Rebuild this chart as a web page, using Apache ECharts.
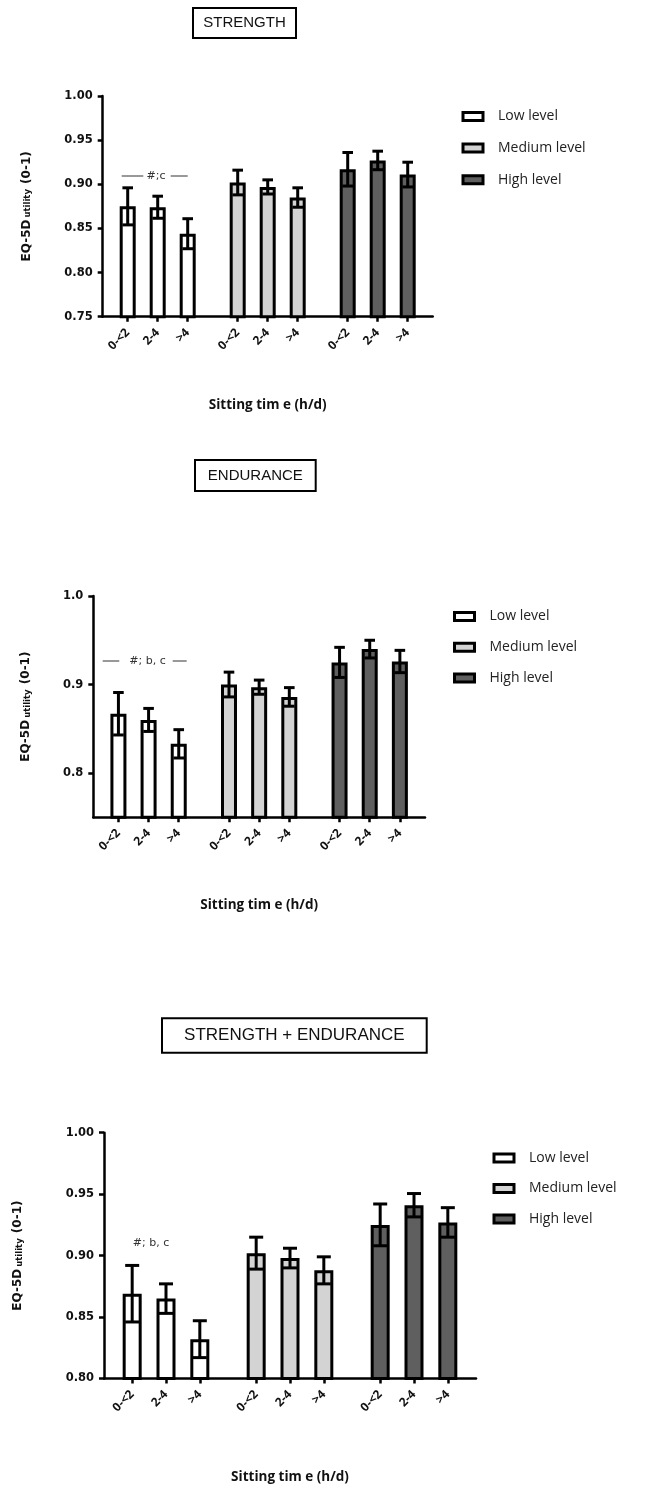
<!DOCTYPE html>
<html><head><meta charset="utf-8">
<script src="https://cdn.jsdelivr.net/npm/echarts@6/dist/echarts.min.js"></script>
<style>html,body{margin:0;padding:0;background:#fff}#c{width:658px;height:1490px}</style>
</head><body><div id="c"></div>
<script>
// ---------- data ----------
const levels = ['Low level', 'Medium level', 'High level'];
const sittingLabels = ['0-<2', '2-4', '>4'];
const panelTitles = ['STRENGTH', 'ENDURANCE', 'STRENGTH + ENDURANCE'];
const xAxisName = 'Sitting tim e (h/d)';
const annotations = ['#;c', '#; b, c', '#; b, c'];

const strengthLow = [0.875, 0.874, 0.844];
const strengthLowErr = [0.021, 0.0125, 0.017];
const strengthMedium = [0.902, 0.897, 0.885];
const strengthMediumErr = [0.014, 0.008, 0.011];
const strengthHigh = [0.917, 0.927, 0.911];
const strengthHighErr = [0.019, 0.0105, 0.014];

const enduranceLow = [0.867, 0.860, 0.833];
const enduranceLowErr = [0.024, 0.013, 0.016];
const enduranceMedium = [0.900, 0.897, 0.886];
const enduranceMediumErr = [0.014, 0.008, 0.0105];
const enduranceHigh = [0.925, 0.940, 0.926];
const enduranceHighErr = [0.017, 0.010, 0.0126];

const combinedLow = [0.869, 0.865, 0.832];
const combinedLowErr = [0.023, 0.012, 0.015];
const combinedMedium = [0.902, 0.898, 0.888];
const combinedMediumErr = [0.013, 0.008, 0.011];
const combinedHigh = [0.925, 0.941, 0.927];
const combinedHighErr = [0.017, 0.0095, 0.012];

const yTicksStrength = [0.75, 0.80, 0.85, 0.90, 0.95, 1.00];
const yTicksEndurance = [0.8, 0.9, 1.0];
const yTicksCombined = [0.80, 0.85, 0.90, 0.95, 1.00];

// ---------- layout ----------
const levelColors = ['#ffffff', '#d3d3d3', '#5f5f5f'];
const SLOTS = [[2, 5, 8], [13, 16, 19], [24, 27, 30]];
const NCAT = 33;
const slotSet = new Set(SLOTS.flat());
const catLabels = [];
for (let i = 0; i < NCAT; i++) catLabels.push('');
SLOTS.forEach(g => g.forEach((s, j) => { catLabels[s] = sittingLabels[j]; }));
const catValues = catLabels.map((_, i) => 'c' + i);

const panels = [
  { grid: {left: 102.7, top: 96, width: 330, height: 220.7}, min: 0.75, max: 1.0, ticks: yTicksStrength, dec: 2,
    nameGap: 70, xNameGap: 81, barWidth: 16, cap: 5.3,
    legend: {left: 456.5, top: 104, gap: 16.6},
    values: [strengthLow, strengthMedium, strengthHigh], errs: [strengthLowErr, strengthMediumErr, strengthHighErr],
    box: [193, 8, 103, 30] },
  { grid: {left: 93.3, top: 596, width: 331.7, height: 221.3}, min: 0.75, max: 1.0, ticks: yTicksEndurance, dec: 1,
    nameGap: 61, xNameGap: 81, barWidth: 16, cap: 5.3,
    legend: {left: 448, top: 604, gap: 15.8},
    values: [enduranceLow, enduranceMedium, enduranceHigh], errs: [enduranceLowErr, enduranceMediumErr, enduranceHighErr],
    box: [195, 460, 120.7, 31] },
  { grid: {left: 104, top: 1132.7, width: 372, height: 245.8}, min: 0.80, max: 1.0, ticks: yTicksCombined, dec: 2,
    nameGap: 80, xNameGap: 92, barWidth: 19, cap: 7,
    legend: {left: 487.5, top: 1145.5, gap: 15.5},
    values: [combinedLow, combinedMedium, combinedHigh], errs: [combinedLowErr, combinedMediumErr, combinedHighErr],
    box: [162, 1018.3, 264.7, 34.4] }
];

function errRender(cap) {
  return function (params, api) {
    const x = api.value(0), v = api.value(1), e = api.value(2);
    const p1 = api.coord([x, v + e]), p2 = api.coord([x, v - e]);
    const st = {stroke: '#000', lineWidth: 3};
    return {type: 'group', children: [
      {type: 'line', shape: {x1: p1[0], y1: p1[1], x2: p2[0], y2: p2[1]}, style: st},
      {type: 'line', shape: {x1: p1[0] - cap, y1: p1[1], x2: p1[0] + cap, y2: p1[1]}, style: st},
      {type: 'line', shape: {x1: p2[0] - cap, y1: p2[1], x2: p2[0] + cap, y2: p2[1]}, style: st}
    ]};
  };
}

const grids = [], xAxes = [], yAxes = [], series = [], legends = [], graphics = [];
panels.forEach((p, pi) => {
  grids.push(Object.assign({containLabel: false}, p.grid));
  xAxes.push({
    type: 'category', gridIndex: pi, data: catValues,
    axisLine: {lineStyle: {color: '#000', width: 2.5}},
    axisTick: {show: true, alignWithLabel: true, length: 5, interval: (i) => slotSet.has(i), lineStyle: {color: '#000', width: 2.5}},
    axisLabel: {interval: (i) => slotSet.has(i), formatter: (v, i) => catLabels[i], rotate: 45, margin: 14,
      fontFamily: 'Open Sans', fontWeight: 'bold', fontSize: 12, color: '#111'},
    name: xAxisName, nameLocation: 'middle', nameGap: p.xNameGap,
    nameTextStyle: {fontFamily: 'Open Sans', fontWeight: 'bold', fontSize: 13.5, color: '#111'},
    splitLine: {show: false}
  });
  yAxes.push({
    type: 'value', gridIndex: pi, min: p.min, max: p.max,
    axisLine: {show: true, lineStyle: {color: '#000', width: 2.5}},
    axisTick: {show: true, length: 5, customValues: p.ticks, lineStyle: {color: '#000', width: 2.5}},
    axisLabel: {customValues: p.ticks, formatter: (v) => Number(v).toFixed(p.dec), margin: 10,
      fontFamily: 'DejaVu Sans', fontWeight: 'bold', fontSize: 11.5, color: '#111'},
    splitLine: {show: false},
    name: '{a|EQ-5D}{s|utility}{a| (0-1)}', nameLocation: 'middle', nameRotate: 90, nameGap: p.nameGap,
    nameTextStyle: {rich: {
      a: {fontFamily: 'DejaVu Sans', fontWeight: 'bold', fontSize: 12, color: '#111', verticalAlign: 'bottom', lineHeight: 16},
      s: {fontFamily: 'DejaVu Sans', fontWeight: 'bold', fontSize: 8.5, color: '#111', verticalAlign: 'bottom', lineHeight: 10, padding: [0, 1, 0, 2]}
    }}
  });
  levels.forEach((lv, li) => {
    const arr = new Array(NCAT).fill('-');
    SLOTS[li].forEach((s, j) => { arr[s] = p.values[li][j]; });
    series.push({
      type: 'bar', name: lv, xAxisIndex: pi, yAxisIndex: pi, data: arr,
      barWidth: p.barWidth, barGap: '-100%',
      itemStyle: {color: levelColors[li], borderColor: '#000', borderWidth: 3},
      emphasis: {disabled: true}, animation: false
    });
  });
  const errData = [];
  levels.forEach((lv, li) => {
    SLOTS[li].forEach((s, j) => { errData.push([s, p.values[li][j], p.errs[li][j]]); });
  });
  series.push({
    type: 'custom', name: 'err' + pi, xAxisIndex: pi, yAxisIndex: pi, data: errData,
    encode: {x: 0, y: 1}, renderItem: errRender(p.cap), z: 5, silent: true, animation: false
  });
  legends.push({
    orient: 'vertical', left: p.legend.left, top: p.legend.top, itemGap: p.legend.gap,
    itemWidth: 20, itemHeight: 8, icon: 'rect', selectedMode: false, data: levels,
    itemStyle: {borderColor: '#000', borderWidth: 3},
    textStyle: {fontFamily: 'Open Sans', fontSize: 14, color: '#222', lineHeight: 15, padding: [0, 0, 0, 10]}
  });
  const b = p.box;
  graphics.push({type: 'rect', shape: {x: b[0], y: b[1], width: b[2], height: b[3]},
    style: {fill: '#fff', stroke: '#000', lineWidth: 2}, z: 10});
  graphics.push({type: 'text', x: b[0] + b[2] / 2, y: b[1] + b[3] / 2, z: 11,
    style: {text: panelTitles[pi], fontFamily: 'Liberation Sans', fontSize: pi === 2 ? 17 : 15, fill: '#111',
      align: 'center', verticalAlign: 'middle'}});
});

// annotations
const annStyle = {stroke: '#333', lineWidth: 1};
const annFont = {fontFamily: 'DejaVu Sans', fontSize: 11, fill: '#333', align: 'center', verticalAlign: 'middle'};
graphics.push({type: 'line', shape: {x1: 121.7, y1: 176, x2: 143.3, y2: 176}, style: annStyle});
graphics.push({type: 'text', x: 156, y: 176, style: Object.assign({text: annotations[0]}, annFont)});
graphics.push({type: 'line', shape: {x1: 170.7, y1: 176, x2: 187.7, y2: 176}, style: annStyle});
graphics.push({type: 'line', shape: {x1: 102.7, y1: 661, x2: 119.3, y2: 661}, style: annStyle});
graphics.push({type: 'text', x: 147.5, y: 661, style: Object.assign({text: annotations[1]}, annFont)});
graphics.push({type: 'line', shape: {x1: 172.7, y1: 661, x2: 186.7, y2: 661}, style: annStyle});
graphics.push({type: 'text', x: 151, y: 1243.3, style: Object.assign({text: annotations[2]}, annFont)});

const chart = echarts.init(document.getElementById('c'), null, {renderer: 'canvas', width: 658, height: 1490});
chart.setOption({
  backgroundColor: '#fff', animation: false,
  grid: grids, xAxis: xAxes, yAxis: yAxes, series: series, legend: legends, graphic: graphics
});
</script></body></html>
